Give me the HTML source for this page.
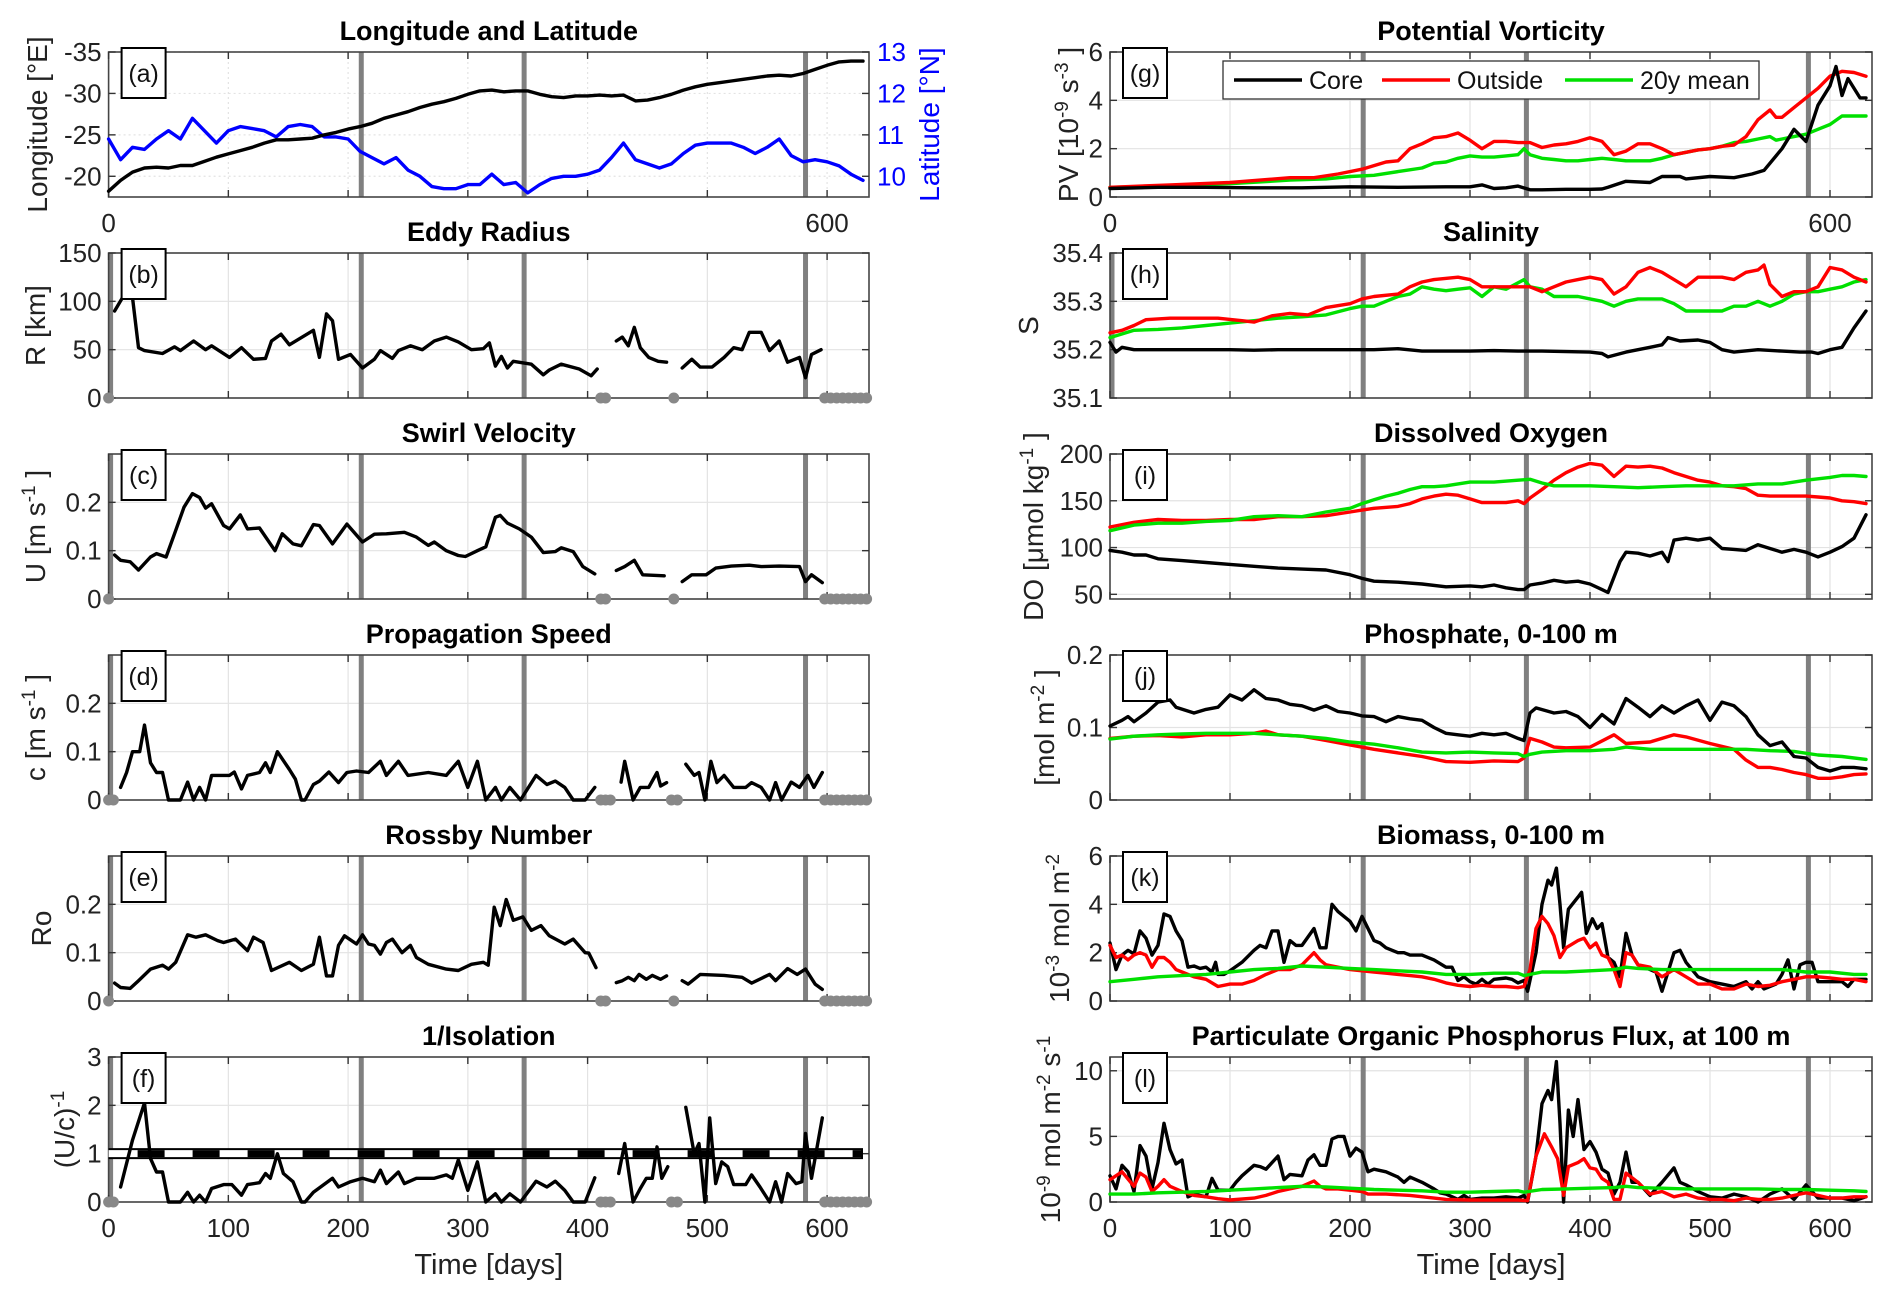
<!DOCTYPE html>
<html><head><meta charset="utf-8">
<style>
html,body{margin:0;padding:0;background:#fff;}
svg{display:block;font-family:"Liberation Sans",Arial,sans-serif;}
</style></head>
<body>
<svg id="chart" width="1892" height="1300" viewBox="0 0 1892 1300"></svg>
<script>
// ---------------- DATA ----------------
const xTicks=[0,100,200,300,400,500,600];
const eventDays=[211,347,582];
// (a)
const aDays=[0,10,20,30,40,50,60,70,80,90,100,110,120,130,140,150,160,170,180,190,200,210,220,230,240,250,260,270,280,290,300,310,320,330,340,350,360,370,380,390,400,410,420,430,440,450,460,470,480,490,500,510,520,530,540,550,560,570,580,590,600,610,620,630];
const lonVals=[-18.2,-19.5,-20.5,-21,-21.1,-21,-21.3,-21.3,-21.8,-22.3,-22.7,-23.1,-23.5,-24,-24.4,-24.4,-24.5,-24.6,-25,-25.3,-25.7,-26,-26.4,-27,-27.4,-27.8,-28.3,-28.7,-29,-29.4,-29.9,-30.3,-30.4,-30.2,-30.3,-30.3,-29.9,-29.6,-29.5,-29.7,-29.7,-29.8,-29.7,-29.8,-29.1,-29.2,-29.5,-29.9,-30.4,-30.8,-31.1,-31.3,-31.5,-31.7,-31.9,-32.1,-32.2,-32.1,-32.4,-32.9,-33.4,-33.8,-33.9,-33.9];
const latVals=[10.9,10.4,10.7,10.65,10.9,11.1,10.9,11.4,11.1,10.8,11.1,11.2,11.15,11.1,10.95,11.2,11.25,11.2,10.95,10.95,10.9,10.6,10.45,10.3,10.45,10.15,10.0,9.75,9.7,9.7,9.8,9.8,10.05,9.8,9.85,9.6,9.8,9.95,10.0,10.0,10.05,10.15,10.45,10.8,10.4,10.3,10.2,10.3,10.55,10.75,10.8,10.8,10.8,10.7,10.55,10.7,10.9,10.5,10.35,10.4,10.35,10.25,10.05,9.9];
// (b)
const rDays=[5,15,20,25,30,45,55,60,71,81,86,101,111,121,131,136,144,151,171,176,182,187,192,202,212,222,227,237,242,252,262,272,282,292,303,313,318,323,328,333,338,353,363,368,378,393,403,408,412,424,429,434,439,444,451,459,466,470,479,487,494,504,514,522,529,535,545,552,560,567,577,582,587,595];
const rVals=[90,111,104,52,49,46,53,49,59,50,54,42,52,40,41,59,66,55,70,42,87,80,40,45,31,40,49,41,49,54,50,59,63,58,50,51,57,33,43,31,38,35,24,29,35,30,23,30,null,59,63,54,73,52,42,38,37,null,31,40,32,32,42,52,50,68,68,49,59,37,42,21,45,50];
// (c)
const uDays=[5,10,18,25,35,40,48,55,63,70,76,81,86,96,101,110,116,126,139,145,154,161,171,176,187,199,212,222,232,247,257,267,272,282,292,298,308,315,323,327,333,343,353,363,373,378,388,396,406,414,424,431,439,446,464,472,479,487,499,507,520,535,545,560,577,582,587,596];
const uVals=[0.091,0.08,0.077,0.06,0.087,0.094,0.087,0.135,0.19,0.218,0.21,0.188,0.197,0.152,0.145,0.174,0.145,0.147,0.1,0.135,0.114,0.11,0.154,0.152,0.114,0.155,0.118,0.134,0.135,0.138,0.128,0.111,0.118,0.1,0.09,0.088,0.1,0.108,0.169,0.173,0.157,0.145,0.128,0.096,0.098,0.106,0.098,0.067,0.052,null,0.059,0.067,0.08,0.05,0.048,null,0.036,0.05,0.05,0.064,0.068,0.07,0.067,0.068,0.067,0.036,0.05,0.034];
// (d)
const cDays=[10,15,20,26,30,35,40,45,50,60,66,71,76,81,86,101,105,111,116,126,131,135,141,151,156,161,164,171,176,184,192,199,207,217,227,232,242,250,267,282,292,300,308,315,323,328,335,344,357,366,373,381,388,398,406,416,428,431,438,444,451,458,461,466,474,482,489,493,498,503,508,514,522,532,537,545,552,557,562,570,577,584,589,596];
const cVals=[0.026,0.057,0.1,0.1,0.155,0.077,0.057,0.057,0,0,0.037,0,0.026,0,0.051,0.051,0.058,0.023,0.051,0.057,0.077,0.057,0.1,0.063,0.043,0,0,0.032,0.039,0.058,0.036,0.057,0.06,0.057,0.08,0.051,0.08,0.051,0.057,0.051,0.08,0.026,0.08,0,0.026,0,0.026,0,0.051,0.032,0.039,0.026,0,0,0.026,null,0.037,0.08,0,0.026,0.026,0.057,0.029,0.036,null,0.074,0.051,0.057,0,0.08,0.036,0.051,0.026,0.026,0.036,0.026,0,0.036,0,0.037,0.026,0.051,0.026,0.057];
// (e)
const eDays=[5,10,18,25,35,45,50,56,66,73,81,91,96,106,116,121,129,136,151,161,171,176,182,187,192,197,207,212,217,222,227,232,237,245,252,257,267,282,292,303,313,317,322,327,332,338,346,353,361,368,381,388,398,401,407,415,424,429,434,439,443,449,454,461,466,472,479,484,494,514,529,537,552,557,567,575,582,590,596];
const eVals=[0.037,0.028,0.026,0.042,0.066,0.074,0.066,0.08,0.137,0.132,0.137,0.125,0.121,0.128,0.104,0.132,0.121,0.063,0.08,0.063,0.076,0.132,0.052,0.052,0.115,0.135,0.118,0.137,0.118,0.115,0.097,0.121,0.128,0.1,0.115,0.09,0.076,0.066,0.063,0.076,0.08,0.074,0.194,0.156,0.21,0.167,0.174,0.146,0.156,0.135,0.118,0.128,0.1,0.099,0.069,null,0.038,0.042,0.049,0.042,0.055,0.045,0.053,0.045,0.052,null,0.042,0.035,0.055,0.053,0.049,0.037,0.055,0.042,0.067,0.055,0.066,0.035,0.024];
// (f)
const fDays=[10,20,30,35,40,45,50,60,66,71,76,81,86,96,103,111,116,126,131,135,141,146,154,161,164,171,187,192,202,212,222,227,232,242,247,257,272,282,287,292,300,308,315,323,328,335,344,357,366,373,381,388,398,406,416,426,431,438,444,449,454,458,462,467,474,482,489,493,498,502,507,512,517,522,532,537,544,552,557,562,567,574,579,582,587,596];
const fVals=[0.31,1.28,2.05,0.9,0.62,0.62,0,0,0.2,0,0.14,0,0.28,0.36,0.36,0.14,0.36,0.4,0.59,0.49,1.0,0.59,0.42,0,0,0.2,0.49,0.31,0.42,0.49,0.42,0.66,0.38,0.62,0.38,0.49,0.49,0.56,0.49,0.87,0.24,0.83,0,0.17,0,0.17,0,0.43,0.31,0.43,0.24,0,0,0.5,null,0.59,1.21,0,0.28,0.49,0.49,1.14,0.49,0.73,null,1.96,1.0,1.21,0,1.74,0.38,0.83,0.73,0.36,0.36,0.56,0.31,0,0.42,0,0.59,0.38,0.42,1.42,0.49,1.74];
const isoThreshold=[1];
const missDaysB=[0,411,415,472,598,603,608,613,618,623,628,633];
const missDaysD=[0,4,411,415,419,470,475,598,603,608,613,618,623,628,633];
// (g)
const gCoreDays=[0,40,80,120,160,200,240,280,300,310,320,330,340,350,360,380,400,410,415,430,450,460,475,480,500,520,535,545,560,570,580,590,600,605,610,615,625,630];
const gCore=[0.35,0.4,0.4,0.38,0.38,0.42,0.4,0.42,0.42,0.5,0.35,0.38,0.45,0.3,0.3,0.32,0.32,0.33,0.4,0.65,0.6,0.85,0.85,0.75,0.85,0.8,0.95,1.1,2.0,2.8,2.3,3.8,4.6,5.4,4.2,4.9,4.1,4.1];
const gOutDays=[0,50,100,150,170,190,210,220,230,240,250,260,270,280,290,300,310,320,330,340,350,360,370,380,390,400,410,420,430,440,450,460,470,480,490,500,510,520,530,540,550,555,560,570,580,590,600,610,620,630];
const gOut=[0.4,0.5,0.6,0.8,0.8,0.95,1.15,1.3,1.45,1.5,2.0,2.2,2.45,2.5,2.65,2.35,2.0,2.3,2.3,2.25,2.25,2.05,2.15,2.2,2.3,2.45,2.3,1.75,1.9,2.2,2.2,2.0,1.75,1.85,1.95,2.0,2.1,2.15,2.5,3.2,3.6,3.3,3.3,3.7,4.1,4.5,5.0,5.2,5.15,5.0];
const gMeanDays=[0,50,100,150,180,200,220,240,260,270,280,290,300,310,320,330,340,345,350,360,370,380,390,400,410,420,430,440,450,460,470,480,490,500,510,520,530,540,550,555,560,570,580,590,600,610,620,630];
const gMean=[0.4,0.45,0.55,0.7,0.75,0.85,0.9,1.05,1.2,1.4,1.45,1.6,1.7,1.65,1.65,1.7,1.75,2.0,1.75,1.6,1.55,1.5,1.5,1.55,1.6,1.55,1.5,1.5,1.5,1.6,1.75,1.85,1.95,2.0,2.1,2.25,2.3,2.4,2.5,2.35,2.4,2.5,2.6,2.8,3.0,3.35,3.35,3.35];
// (h)
const hCoreDays=[0,5,10,20,40,60,80,100,120,140,160,180,200,220,240,260,280,300,320,340,360,380,400,410,415,430,450,460,465,475,490,500,510,520,540,560,575,585,590,600,610,620,630];
const hCore=[35.215,35.195,35.205,35.2,35.2,35.2,35.2,35.2,35.199,35.2,35.2,35.2,35.2,35.2,35.202,35.197,35.197,35.197,35.198,35.197,35.197,35.196,35.195,35.192,35.185,35.195,35.205,35.21,35.225,35.218,35.22,35.215,35.2,35.195,35.2,35.197,35.195,35.195,35.192,35.2,35.205,35.245,35.28];
const hOutDays=[0,10,20,30,50,70,90,110,120,135,150,165,180,200,210,220,240,250,260,270,290,300,310,320,330,340,350,360,370,380,390,400,410,420,430,440,450,460,470,480,490,500,510,520,530,540,545,550,560,570,580,590,600,610,620,630];
const hOut=[35.235,35.24,35.25,35.262,35.265,35.265,35.265,35.26,35.257,35.27,35.275,35.272,35.287,35.295,35.305,35.31,35.315,35.33,35.34,35.345,35.35,35.345,35.33,35.33,35.33,35.33,35.33,35.32,35.33,35.34,35.345,35.35,35.345,35.315,35.33,35.36,35.37,35.36,35.345,35.33,35.35,35.35,35.35,35.345,35.36,35.365,35.375,35.335,35.31,35.32,35.32,35.33,35.37,35.365,35.35,35.34];
const hMeanDays=[0,20,40,60,80,100,120,140,160,180,200,210,220,230,240,250,260,270,280,290,300,310,320,330,345,350,360,370,380,390,400,410,420,430,440,450,460,470,480,490,500,510,520,530,540,550,560,570,580,590,600,610,620,630];
const hMean=[35.225,35.24,35.242,35.245,35.25,35.255,35.26,35.265,35.268,35.272,35.285,35.29,35.29,35.3,35.31,35.315,35.33,35.325,35.322,35.325,35.328,35.31,35.33,35.325,35.345,35.33,35.325,35.31,35.31,35.31,35.305,35.3,35.29,35.3,35.305,35.305,35.305,35.295,35.28,35.28,35.28,35.28,35.29,35.29,35.3,35.29,35.3,35.315,35.32,35.32,35.325,35.33,35.34,35.345];
// (i)
const iCoreDays=[0,10,20,30,40,60,80,100,120,140,160,180,200,210,220,240,260,280,300,310,320,330,340,345,350,360,370,380,390,400,410,415,425,430,440,450,460,465,470,480,490,500,510,520,530,540,550,560,570,580,590,600,610,620,630];
const iCore=[97,95,92,92,88,86,84,82,80,78,77,76,71,67,64,63,61,58,59,58,60,57,55,55,60,62,65,63,64,61,55,52,85,95,94,91,95,85,108,110,108,110,99,98,97,103,99,95,98,95,90,95,101,110,135];
const iOutDays=[0,20,40,60,80,100,120,140,160,180,200,210,220,240,250,260,270,280,290,300,310,320,330,340,345,350,360,370,380,390,400,410,420,430,440,450,460,470,480,490,500,510,520,530,540,550,560,570,580,590,600,610,620,630];
const iOut=[122,127,130,129,129,130,130,133,133,134,138,140,142,144,147,152,155,157,156,152,148,148,148,150,147,153,162,172,180,186,190,188,176,187,186,187,185,180,176,172,170,166,165,163,156,155,155,155,155,154,153,150,149,147];
const iMeanDays=[0,20,40,60,80,100,120,140,160,180,200,210,220,230,240,250,260,270,280,290,300,310,320,340,350,360,370,380,400,420,440,460,480,500,520,540,560,580,600,610,620,630];
const iMean=[118,124,126,126,128,129,133,134,133,138,142,147,151,155,158,162,165,165,166,168,170,170,170,172,173,169,166,166,166,165,164,165,166,166,166,168,168,172,175,177,177,176];
// (j)
const jCoreDays=[0,10,15,20,30,40,50,55,70,80,90,100,110,120,130,140,150,160,170,180,190,200,210,220,230,240,250,260,270,280,290,300,310,320,330,340,345,350,355,370,380,390,400,410,420,430,440,450,460,470,480,490,500,510,520,530,540,550,560,570,580,590,600,610,620,630];
const jCore=[0.102,0.11,0.115,0.108,0.12,0.135,0.138,0.128,0.12,0.125,0.128,0.145,0.138,0.152,0.14,0.138,0.132,0.13,0.124,0.13,0.122,0.12,0.116,0.115,0.108,0.115,0.112,0.11,0.1,0.092,0.09,0.088,0.092,0.09,0.092,0.085,0.082,0.12,0.127,0.12,0.122,0.115,0.1,0.118,0.105,0.14,0.128,0.115,0.13,0.12,0.13,0.138,0.11,0.135,0.13,0.115,0.09,0.075,0.08,0.06,0.058,0.045,0.04,0.045,0.045,0.043];
const jOutDays=[0,20,40,60,80,100,120,130,140,160,180,200,220,240,260,280,300,320,340,345,350,360,370,380,400,420,430,450,470,480,500,520,530,540,550,560,570,580,590,600,610,620,630];
const jOut=[0.085,0.088,0.089,0.087,0.09,0.09,0.092,0.095,0.09,0.088,0.082,0.076,0.07,0.065,0.06,0.053,0.052,0.054,0.053,0.058,0.085,0.08,0.073,0.072,0.073,0.09,0.078,0.08,0.09,0.087,0.078,0.07,0.055,0.045,0.045,0.042,0.038,0.035,0.03,0.03,0.032,0.035,0.036];
const jMeanDays=[0,20,40,60,80,100,120,140,160,180,200,220,240,260,280,300,320,340,345,350,360,380,400,420,430,450,470,490,510,530,550,570,590,610,630];
const jMean=[0.084,0.088,0.09,0.091,0.092,0.092,0.092,0.09,0.088,0.085,0.08,0.077,0.072,0.066,0.065,0.066,0.065,0.064,0.06,0.063,0.066,0.068,0.068,0.07,0.073,0.07,0.07,0.07,0.07,0.07,0.068,0.067,0.062,0.06,0.056];
// (k)
const kCoreDays=[0,5,10,15,20,25,30,35,40,45,50,55,60,65,70,75,80,85,88,90,95,100,110,120,125,130,135,140,145,150,155,160,170,175,180,185,190,200,205,210,215,220,225,230,240,245,250,260,270,280,285,290,295,300,305,310,315,320,330,335,340,345,348,355,360,365,368,372,375,378,382,390,393,397,402,406,410,415,420,425,430,435,440,450,455,460,465,470,475,480,490,500,510,520,530,535,540,545,555,560,565,570,575,580,585,590,600,610,615,620,630];
const kCore=[2.4,1.3,1.9,2.1,1.95,2.9,2.6,1.9,2.3,3.6,3.5,2.9,2.5,1.4,1.45,1.35,1.4,1.2,1.6,1.1,1.1,1.25,1.6,2.1,2.3,2.2,2.9,2.9,1.6,2.5,2.3,2.3,3.0,2.2,2.2,4.0,3.7,3.3,2.9,3.5,3.0,2.5,2.4,2.2,2.0,2.0,1.9,1.9,1.7,1.4,1.4,0.85,1.0,0.8,0.7,0.9,0.7,0.9,0.95,0.9,0.75,0.85,0.4,2.0,4.0,5.0,4.8,5.5,4.0,2.2,3.8,4.3,4.5,2.8,3.4,3.0,3.2,1.8,1.6,1.0,2.8,1.9,1.5,1.3,1.2,0.4,1.2,2.0,2.1,1.6,1.0,0.8,0.7,0.6,0.8,0.5,0.8,0.5,0.7,1.1,1.7,0.5,1.5,1.6,1.6,0.8,0.8,0.8,0.6,0.9,0.9];
const kOutDays=[0,5,10,15,20,25,30,35,40,45,50,55,60,70,80,90,100,110,120,130,140,150,160,170,175,180,190,200,210,220,230,240,250,260,270,280,290,300,310,320,330,340,345,350,355,360,365,370,375,380,390,395,400,405,410,415,420,425,430,435,440,450,460,470,480,490,500,510,520,530,540,550,560,570,580,590,600,610,620,630];
const kOut=[2.3,1.8,1.9,1.7,1.9,2.0,1.9,1.4,1.8,1.8,1.6,1.3,1.2,1.0,0.9,0.6,0.7,0.7,0.85,1.1,1.3,1.3,1.5,2.0,1.7,1.5,1.4,1.3,1.25,1.2,1.15,1.1,1.05,1.0,0.9,0.75,0.65,0.6,0.65,0.6,0.6,0.55,0.6,1.3,3.0,3.5,3.2,2.7,1.8,2.2,2.5,2.6,2.2,2.4,1.9,1.8,1.3,0.6,2.0,1.9,1.5,1.4,1.0,1.3,1.0,0.7,0.7,0.5,0.5,0.7,0.6,0.65,0.8,0.9,1.0,1.0,0.95,0.9,0.9,0.8];
const kMeanDays=[0,20,40,60,80,100,120,140,160,180,200,220,240,260,280,300,320,340,345,360,380,400,420,430,440,460,480,500,520,540,560,580,600,620,630];
const kMean=[0.8,0.9,1.0,1.05,1.1,1.2,1.3,1.35,1.45,1.4,1.35,1.3,1.25,1.2,1.1,1.1,1.15,1.15,1.05,1.2,1.2,1.25,1.3,1.4,1.35,1.3,1.3,1.3,1.3,1.3,1.3,1.2,1.2,1.1,1.1];
// (l)
const lCoreDays=[0,5,10,15,20,25,30,35,40,45,50,55,60,65,70,80,85,90,100,105,110,120,125,130,135,140,145,150,160,165,170,175,180,185,190,195,200,205,210,215,220,230,240,245,250,260,270,275,280,290,295,300,310,320,330,340,345,348,355,360,365,368,372,375,378,382,386,390,395,400,405,410,415,420,425,430,435,440,450,460,470,475,480,490,500,510,520,530,540,550,560,570,580,590,600,610,620,630];
const lCore=[2.0,1.0,2.8,2.3,0.8,4.3,3.5,1.0,3.0,6.0,4.0,2.9,3.2,0.4,0.6,0.4,1.8,0.9,0.9,1.5,2.0,2.8,2.7,2.5,3.0,3.5,1.7,2.1,2.0,3.2,3.6,2.8,2.8,4.8,5.0,5.0,3.5,4.1,3.8,2.3,2.5,2.3,1.9,1.5,1.9,1.5,1.0,0.7,0.6,0.2,0.5,0.2,0.3,0.3,0.4,0.3,0.5,0.0,3.5,7.5,8.5,7.8,10.7,6.0,0.0,7.0,5.0,7.8,4.0,4.6,3.8,2.5,2.2,0.6,1.5,3.8,1.5,1.5,0.5,1.5,2.6,1.5,1.3,0.8,0.4,0.3,0.6,0.4,0.0,0.6,1.0,0.2,1.3,0.3,0.3,0.3,0.1,0.4];
const lOutDays=[0,10,20,25,30,35,40,45,50,60,70,80,90,100,120,130,140,150,160,170,175,180,190,200,210,215,230,250,270,280,300,320,340,348,355,362,368,373,378,382,390,395,400,405,410,415,420,425,430,440,450,460,470,480,490,500,510,520,530,540,550,560,570,580,590,600,610,620,630];
const lOut=[1.7,2.3,1.2,2.2,1.9,0.8,1.2,1.7,1.2,0.8,0.5,0.4,0.25,0.15,0.3,0.5,0.8,1.0,1.2,1.6,1.2,1.0,1.0,0.9,0.8,0.6,0.6,0.5,0.3,0.2,0.15,0.15,0.15,0.1,3.5,5.2,4.2,3.3,0.5,2.7,3.0,3.3,2.6,2.5,1.8,1.5,0.2,0.2,2.2,1.5,0.6,0.8,0.4,0.6,0.3,0.2,0.2,0.1,0.3,0.2,0.2,0.3,0.5,0.7,0.5,0.3,0.3,0.4,0.4];
const lMeanDays=[0,20,40,60,80,100,120,140,160,180,200,220,240,260,280,300,320,340,345,360,380,400,420,430,440,460,480,500,520,540,560,580,600,620,630];
const lMean=[0.6,0.6,0.7,0.75,0.8,0.9,1.0,1.1,1.2,1.15,1.05,0.95,0.9,0.85,0.75,0.75,0.8,0.85,0.75,0.95,1.0,1.05,1.1,1.2,1.1,1.05,1.0,1.0,1.0,1.0,0.95,0.95,0.9,0.85,0.8];

// ---------------- DRAWING ----------------
const NS='http://www.w3.org/2000/svg';
const svg=document.getElementById('chart');
function mk(tag,attrs,parent){const e=document.createElementNS(NS,tag);for(const k in attrs)e.setAttribute(k,attrs[k]);(parent||svg).appendChild(e);return e;}
const DMAX=635, PH=145;
const BLUE='#0000ff', RED='#ff0000', GREEN='#00e000';
const TICKFS=26, TITLEFS=27, YLFS=28;

function makePanel(p){
  const x0=p.side==='L'?108.6:1110, x1=p.side==='L'?869:1872;
  const top=52+201*p.row, bot=top+PH;
  const xs=d=>x0+d/DMAX*(x1-x0);
  const ys=v=>bot-(v-p.ymin)/(p.ymax-p.ymin)*PH;
  const g=mk('g',{});
  
  
  xTicks.forEach(d=>{ if(d===0) return;
    const l=mk('line',{x1:xs(d),x2:xs(d),y1:top,y2:bot,stroke:'#e3e3e3','stroke-width':1.2,'stroke-dasharray':p.dot?'2 3':'none'},g);
    
    
  });
  p.yticks.forEach(v=>{
    const l=mk('line',{x1:x0,x2:x1,y1:ys(v),y2:ys(v),stroke:'#e3e3e3','stroke-width':1.2,'stroke-dasharray':p.dot?'2 3':'none'},g);
    
    
  });
  const ev=p.zeroLine?[0].concat(eventDays):eventDays;
  ev.forEach(d=>{
    const l=mk('line',{x1:xs(d)+(d===0?2:0),x2:xs(d)+(d===0?2:0),y1:top,y2:bot,stroke:'#808080','stroke-width':5},g);
    
    
  });
  const r=mk('rect',{x:x0,y:top,width:x1-x0,height:PH,fill:'none',stroke:'#454545','stroke-width':1.6},g);
  
  
  xTicks.forEach(d=>{
    const t1=mk('line',{x1:xs(d),x2:xs(d),y1:bot,y2:bot-7,stroke:'#333','stroke-width':1.4},g);
    
    
    const t2=mk('line',{x1:xs(d),x2:xs(d),y1:top,y2:top+7,stroke:'#333','stroke-width':1.4},g);
    
    
  });
  p.yticks.forEach((v,i)=>{
    const t=mk('line',{x1:x0,x2:x0+7,y1:ys(v),y2:ys(v),stroke:'#333','stroke-width':1.4},g);
    
    
    if(!p.noRightTicks){
      const t2=mk('line',{x1:x1,x2:x1-7,y1:ys(v),y2:ys(v),stroke:'#333','stroke-width':1.4},g);
      
      
    }
    const tx=mk('text',{x:x0-7,y:ys(v)+9,'text-anchor':'end','font-size':TICKFS,fill:'#222'},g);
    tx.textContent=p.ylabels[i];
    
    
  });
  const xl=p.xlab==='all'?xTicks:(p.xlab==='ends'?[0,600]:[]);
  xl.forEach(d=>{
    const tx=mk('text',{x:xs(d),y:bot+35,'text-anchor':'middle','font-size':TICKFS,fill:'#222'},g);
    tx.textContent=String(d);
    
    
  });
  if(p.xlab==='all'){
    const tt=mk('text',{x:(x0+x1)/2,y:bot+72,'text-anchor':'middle','font-size':29,fill:'#222'},g);
    tt.textContent='Time [days]';
    
    
  }
  const ti=mk('text',{x:(x0+x1)/2,y:top-12,'text-anchor':'middle','font-size':TITLEFS,'font-weight':'bold',fill:'#000'},g);
  ti.textContent=p.title;
  
  
  const yl=mk('text',{x:0,y:0,'text-anchor':'middle','font-size':YLFS,fill:p.ycolor||'#222',transform:`translate(${p.ylx},${(top+bot)/2}) rotate(-90)`},g);
  yl.innerHTML=p.ylabel;
  
  
  return {g,xs,ys,x0,x1,top,bot};
}
function series(P,days,vals,color,name,ysf){
  const yf=ysf||P.ys; let d='',pen=false;
  for(let i=0;i<Math.min(days.length,vals.length);i++){
    const v=vals[i];
    if(v===null||v===undefined){pen=false;continue;}
    d+=(pen?'L':'M')+P.xs(days[i]).toFixed(1)+' '+yf(v).toFixed(1)+' ';pen=true;
  }
  const pth=mk('path',{d:d,fill:'none',stroke:color,'stroke-width':3.4,'stroke-linejoin':'round','stroke-linecap':'round'},P.g);
  
  
}
function dots(P,days){
  days.forEach(d=>{
    const c=mk('circle',{cx:P.xs(d),cy:P.bot,r:5.5,fill:'#888'},P.g);
    
    
  });
}
function letterBox(P,letter){
  const bx=P.x0+13, by=P.top-4;
  const r=mk('rect',{x:bx,y:by,width:44,height:50,fill:'#fff',stroke:'#000','stroke-width':2},P.g);
  
  
  const t=mk('text',{x:bx+22,y:by+34,'text-anchor':'middle','font-size':25,fill:'#111'},P.g);
  t.textContent='('+letter+')';
  
  
}
const SUP=v=>`<tspan font-size="19" dy="-10">${v}</tspan><tspan dy="10"> </tspan>`;

// (a)
const A=makePanel({side:'L',row:0,letter:'a',ymin:-17.5,ymax:-35,yticks:[-35,-30,-25,-20],ylabels:['-35','-30','-25','-20'],title:'Longitude and Latitude',xlab:'ends',ylabel:'Longitude [°E]',ylx:47,dot:true,noRightTicks:true});
const latY=v=>A.bot-(v-9.5)/(13-9.5)*PH;
[10,11,12,13].forEach(v=>{
  const t=mk('line',{x1:A.x1,x2:A.x1-7,y1:latY(v),y2:latY(v),stroke:'#333','stroke-width':1.4},A.g);
  
  
  const tx=mk('text',{x:A.x1+8,y:latY(v)+9,'font-size':TICKFS,fill:BLUE},A.g);
  tx.textContent=String(v);
  
  
});
const latT=mk('text',{x:0,y:0,'text-anchor':'middle','font-size':YLFS,fill:BLUE,transform:`translate(939,${(A.top+A.bot)/2}) rotate(-90)`},A.g);
latT.textContent='Latitude [°N]';


series(A,aDays,latVals,BLUE,'latitude-line',latY);
series(A,aDays,lonVals,'#000','longitude-line');
letterBox(A,'a');

// (b)
const B=makePanel({side:'L',row:1,letter:'b',ymin:0,ymax:150,yticks:[0,50,100,150],ylabels:['0','50','100','150'],title:'Eddy Radius',xlab:'none',ylabel:'R  [km]',ylx:45,zeroLine:true});
series(B,rDays,rVals,'#000','radius-line'); dots(B,missDaysB); letterBox(B,'b');
// (c)
const C=makePanel({side:'L',row:2,letter:'c',ymin:0,ymax:0.3,yticks:[0,0.1,0.2],ylabels:['0','0.1','0.2'],title:'Swirl Velocity',xlab:'none',ylabel:'U [m s'+SUP('-1')+']',ylx:45,zeroLine:true});
series(C,uDays,uVals,'#000','swirl-velocity-line'); dots(C,missDaysB); letterBox(C,'c');
// (d)
const D=makePanel({side:'L',row:3,letter:'d',ymin:0,ymax:0.3,yticks:[0,0.1,0.2],ylabels:['0','0.1','0.2'],title:'Propagation Speed',xlab:'none',ylabel:'c [m s'+SUP('-1')+']',ylx:45,zeroLine:true});
series(D,cDays,cVals,'#000','propagation-speed-line'); dots(D,missDaysD); letterBox(D,'d');
// (e)
const E=makePanel({side:'L',row:4,letter:'e',ymin:0,ymax:0.3,yticks:[0,0.1,0.2],ylabels:['0','0.1','0.2'],title:'Rossby Number',xlab:'none',ylabel:'Ro',ylx:51,zeroLine:true});
series(E,eDays,eVals,'#000','rossby-number-line'); dots(E,missDaysB); letterBox(E,'e');
// (f)
const F=makePanel({side:'L',row:5,letter:'f',ymin:0,ymax:3,yticks:[0,1,2,3],ylabels:['0','1','2','3'],title:'1/Isolation',xlab:'all',ylabel:'(U/c)'+SUP('-1'),ylx:74,zeroLine:true});
const thY=F.ys(isoThreshold[0]);
const th1=mk('line',{x1:F.x0,x2:F.x1-6,y1:thY,y2:thY,stroke:'#000','stroke-width':11},F.g);


const th2=mk('line',{x1:F.x0,x2:F.x1-8,y1:thY,y2:thY,stroke:'#fff','stroke-width':7},F.g);


const th3=mk('line',{x1:F.x0+29,x2:F.x1-8,y1:thY,y2:thY,stroke:'#000','stroke-width':7,'stroke-dasharray':'27 28'},F.g);


series(F,fDays,fVals,'#000','isolation-line'); dots(F,missDaysD); letterBox(F,'f');

// (g)
const G=makePanel({side:'R',row:0,letter:'g',ymin:0,ymax:6,yticks:[0,2,4,6],ylabels:['0','2','4','6'],title:'Potential Vorticity',xlab:'ends',ylabel:'PV [10'+SUP('-9')+'s'+SUP('-3')+']',ylx:1078});
series(G,gMeanDays,gMean,GREEN,'pv-20y-mean-line');
series(G,gOutDays,gOut,RED,'pv-outside-line');
series(G,gCoreDays,gCore,'#000','pv-core-line');
letterBox(G,'g');
const lg=mk('g',{},G.g);


const lgb=mk('rect',{x:1223,y:61,width:536,height:38,fill:'#fff',stroke:'#333','stroke-width':1.3},lg);


[['Core','#000',1234],['Outside',RED,1382],['20y mean',GREEN,1565]].forEach(e=>{
  const l=mk('line',{x1:e[2],x2:e[2]+68,y1:80,y2:80,stroke:e[1],'stroke-width':3.4},lg);
  
  
  const t=mk('text',{x:e[2]+75,y:89,'font-size':25,fill:'#111'},lg);
  t.textContent=e[0];
  
  
});
// (h)
const H=makePanel({side:'R',row:1,letter:'h',ymin:35.1,ymax:35.4,yticks:[35.1,35.2,35.3,35.4],ylabels:['35.1','35.2','35.3','35.4'],title:'Salinity',xlab:'none',ylabel:'S',ylx:1038,zeroLine:true});
series(H,hMeanDays,hMean,GREEN,'salinity-20y-mean-line');
series(H,hOutDays,hOut,RED,'salinity-outside-line');
series(H,hCoreDays,hCore,'#000','salinity-core-line');
letterBox(H,'h');
// (i)
const I=makePanel({side:'R',row:2,letter:'i',ymin:45,ymax:200,yticks:[50,100,150,200],ylabels:['50','100','150','200'],title:'Dissolved Oxygen',xlab:'none',ylabel:'DO [μmol kg'+SUP('-1')+']',ylx:1043});
series(I,iOutDays,iOut,RED,'do-outside-line');
series(I,iMeanDays,iMean,GREEN,'do-20y-mean-line');
series(I,iCoreDays,iCore,'#000','do-core-line');
letterBox(I,'i');
// (j)
const J=makePanel({side:'R',row:3,letter:'j',ymin:0,ymax:0.2,yticks:[0,0.1,0.2],ylabels:['0','0.1','0.2'],title:'Phosphate, 0-100 m',xlab:'none',ylabel:'[mol m'+SUP('-2')+']',ylx:1054});
series(J,jOutDays,jOut,RED,'phosphate-outside-line');
series(J,jMeanDays,jMean,GREEN,'phosphate-20y-mean-line');
series(J,jCoreDays,jCore,'#000','phosphate-core-line');
letterBox(J,'j');
// (k)
const K=makePanel({side:'R',row:4,letter:'k',ymin:0,ymax:6,yticks:[0,2,4,6],ylabels:['0','2','4','6'],title:'Biomass, 0-100 m',xlab:'none',ylabel:'10'+SUP('-3')+'mol m'+SUP('-2'),ylx:1069});
series(K,kCoreDays,kCore,'#000','biomass-core-line');
series(K,kOutDays,kOut,RED,'biomass-outside-line');
series(K,kMeanDays,kMean,GREEN,'biomass-20y-mean-line');
letterBox(K,'k');
// (l)
const L=makePanel({side:'R',row:5,letter:'l',ymin:0,ymax:11.05,yticks:[0,5,10],ylabels:['0','5','10'],title:'Particulate Organic Phosphorus Flux, at 100 m',xlab:'all',ylabel:'10'+SUP('-9')+'mol m'+SUP('-2')+'s'+SUP('-1'),ylx:1060});
series(L,lCoreDays,lCore,'#000','pop-flux-core-line');
series(L,lOutDays,lOut,RED,'pop-flux-outside-line');
series(L,lMeanDays,lMean,GREEN,'pop-flux-20y-mean-line');
letterBox(L,'l');
</script>
</body></html>
